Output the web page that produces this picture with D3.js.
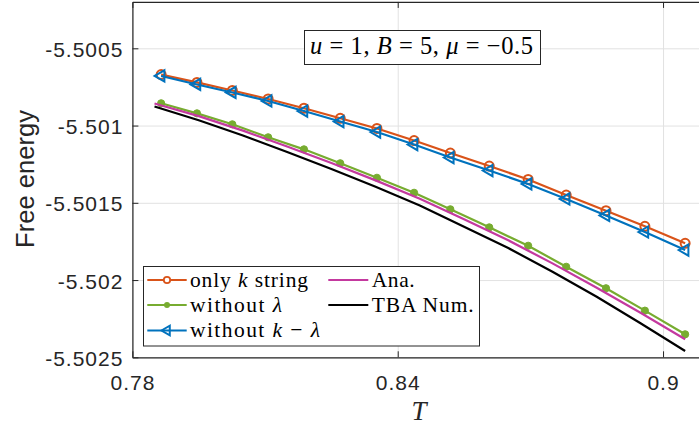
<!DOCTYPE html>
<html><head><meta charset="utf-8">
<script src="https://cdn.jsdelivr.net/npm/d3@7"></script>
<style>body{margin:0;background:#fff;} svg{display:block;}</style>
</head><body>
<script>
// ---- data ----
const T = [0.7865, 0.7946, 0.8026, 0.8107, 0.8188, 0.8270, 0.8353, 0.8437, 0.8519, 0.8607, 0.8695, 0.8781, 0.8871, 0.8959, 0.9050];
const onlyKString = [-5.500670, -5.500721, -5.500773, -5.500828, -5.500888, -5.500953, -5.501019, -5.501097, -5.501178, -5.501262, -5.501349, -5.501450, -5.501551, -5.501652, -5.501762];
const withoutLambda = [-5.500856, -5.500921, -5.500992, -5.501076, -5.501154, -5.501244, -5.501338, -5.501435, -5.501542, -5.501659, -5.501778, -5.501914, -5.502053, -5.502198, -5.502351];
const withoutKLambda = [-5.500679, -5.500734, -5.500786, -5.500841, -5.500906, -5.500974, -5.501042, -5.501123, -5.501207, -5.501291, -5.501378, -5.501475, -5.501582, -5.501689, -5.501806];
const TLine = [0.785, 0.795, 0.805, 0.815, 0.825, 0.835, 0.845, 0.855, 0.865, 0.875, 0.885, 0.895, 0.905];
const ana = [-5.500857, -5.500939, -5.501033, -5.501136, -5.501242, -5.501355, -5.501474, -5.501607, -5.501743, -5.501892, -5.502050, -5.502213, -5.502383];
const tbaNum = [-5.500877, -5.500966, -5.501064, -5.501171, -5.501281, -5.501396, -5.501517, -5.501655, -5.501793, -5.501946, -5.502108, -5.502281, -5.502459];
const xTicks = [0.78, 0.84, 0.9];
const xTickLabels = ["0.78", "0.84", "0.9"];
const yTicks = [-5.5005, -5.501, -5.5015, -5.502, -5.5025];
const yTickLabels = ["-5.5005", "-5.501", "-5.5015", "-5.502", "-5.5025"];
const legendLabels = [
  [["only ",0],["k",1],[" string",0]],
  [["without ",0],["λ",1]],
  [["without ",0],["k",1],[" − ",0],["λ",1]],
  [["Ana.",0]],
  [["TBA Num.",0]]
];
const legendWidths = [118, 92, 130, 43, 102];
const annotation = [["u",1],[" = 1, ",0],["B",1],[" = 5, ",0],["μ",1],[" = −0.5",0]];

// ---- layout ----
const W = 699, H = 428;
const L = 132.4, R = 700.4, TOP = 1.95, BOT = 357.3;
const x = d3.scaleLinear().domain([0.78, 0.90845]).range([L, R]);
const y = d3.scaleLinear().domain([-5.5025, -5.5002]).range([BOT, TOP]);
const axisColor = "#262626";
const colors = {orange:"#D95319", green:"#77AC30", blue:"#0072BD", magenta:"#C4399F", black:"#000000"};

const svg = d3.select("body").append("svg").attr("width", W).attr("height", H);

// grid
svg.append("g").attr("transform", `translate(0,${BOT})`)
  .call(d3.axisBottom(x).tickValues(xTicks).tickSize(-(BOT-TOP)).tickFormat(""))
  .call(g => { g.select(".domain").remove(); g.selectAll("line").attr("stroke", "#e2e2e2").attr("stroke-width", 1); });
svg.append("g").attr("transform", `translate(${L},0)`)
  .call(d3.axisLeft(y).tickValues(yTicks).tickSize(-(R-L)).tickFormat(""))
  .call(g => { g.select(".domain").remove(); g.selectAll("line").attr("stroke", "#e2e2e2").attr("stroke-width", 1); });

// axes
const tickFont = "'Liberation Sans', Arial, Helvetica, sans-serif";
const gx = svg.append("g").attr("transform", `translate(0,${BOT})`)
  .call(d3.axisBottom(x).tickValues(xTicks).tickSizeInner(-6).tickSizeOuter(0).tickPadding(18)
    .tickFormat((d,i) => xTickLabels[i]));
const gxTop = svg.append("g").attr("transform", `translate(0,${TOP})`)
  .call(d3.axisTop(x).tickValues(xTicks).tickSizeInner(-6).tickSizeOuter(0).tickFormat(""));
const gy = svg.append("g").attr("transform", `translate(${L},0)`)
  .call(d3.axisLeft(y).tickValues(yTicks).tickSizeInner(-6).tickSizeOuter(0).tickPadding(9)
    .tickFormat((d,i) => yTickLabels[i]));
[gx, gxTop, gy].forEach(g => {
  g.attr("font-family", null).attr("font-size", null);
  g.select(".domain").attr("stroke", axisColor).attr("stroke-width", 1.2);
  g.selectAll(".tick line").attr("stroke", axisColor).attr("stroke-width", 1);
  g.selectAll(".tick text").attr("fill", axisColor)
    .style("font-family", tickFont).style("font-size", "21px").style("letter-spacing", "1px");
});
gx.selectAll(".tick text").attr("dy", "0.71em");
gy.selectAll(".tick text").attr("dy", "0.38em");

// axis labels
svg.append("text").attr("transform", `translate(33.5,179) rotate(-90)`)
  .attr("text-anchor", "middle").attr("fill", axisColor)
  .style("font-family", tickFont).style("font-size", "25.6px").text("Free energy");
svg.append("text").attr("x", 419).attr("y", 420).attr("text-anchor", "middle")
  .attr("fill", axisColor)
  .style("font-family", "'Liberation Serif', 'Times New Roman', serif").style("font-style", "italic")
  .style("font-size", "27px").text("T");

// lines
const line = (xs) => d3.line().x((d,i) => x(xs[i])).y(d => y(d));
const plot = svg.append("g");
function drawLine(xs, ys, color) {
  plot.append("path").datum(ys).attr("d", line(xs)).attr("fill", "none")
    .attr("stroke", color).attr("stroke-width", 2.2).attr("stroke-linejoin", "round");
}
// only k string
drawLine(T, onlyKString, colors.orange);
plot.append("g").selectAll("circle").data(onlyKString).join("circle")
  .attr("cx", (d,i) => x(T[i])).attr("cy", d => y(d)).attr("r", 4.5)
  .attr("fill", "none").attr("stroke", colors.orange).attr("stroke-width", 2);
// without lambda
drawLine(T, withoutLambda, colors.green);
plot.append("g").selectAll("circle").data(withoutLambda).join("circle")
  .attr("cx", (d,i) => x(T[i])).attr("cy", d => y(d)).attr("r", 3.6)
  .attr("fill", colors.green).attr("stroke", colors.green).attr("stroke-width", 1);
// without k - lambda
drawLine(T, withoutKLambda, colors.blue);
const tri = d3.symbol().type(d3.symbolTriangle).size(55);
plot.append("g").selectAll("path").data(withoutKLambda).join("path")
  .attr("d", tri())
  .attr("transform", (d,i) => `translate(${x(T[i])},${y(d)}) rotate(-90)`)
  .attr("fill", "none").attr("stroke", colors.blue).attr("stroke-width", 2).attr("stroke-linejoin", "miter");
// Ana, TBA
drawLine(TLine, ana, colors.magenta);
drawLine(TLine, tbaNum, colors.black);

// annotation box
const serif = "'Liberation Serif', 'Times New Roman', serif";
svg.append("rect").attr("x", 304.5).attr("y", 30.5).attr("width", 236).attr("height", 34)
  .attr("fill", "#fff").attr("stroke", axisColor).attr("stroke-width", 1);
const at = svg.append("text").attr("x", 310).attr("y", 54).attr("fill", "#000")
  .style("font-family", serif).style("font-size", "24.5px")
  .attr("textLength", 223).attr("lengthAdjust", "spacing");
annotation.forEach(([s, it]) => at.append("tspan").style("font-style", it ? "italic" : "normal").text(s));

// legend
const lg = svg.append("g");
lg.append("rect").attr("x", 143.5).attr("y", 266.5).attr("width", 336).attr("height", 79.5)
  .attr("fill", "#fff").attr("stroke", axisColor).attr("stroke-width", 1);
const legendItems = [
  {c: colors.orange, m: "circle", col: 0, row: 0},
  {c: colors.green, m: "dot", col: 0, row: 1},
  {c: colors.blue, m: "tri", col: 0, row: 2},
  {c: colors.magenta, m: null, col: 1, row: 0},
  {c: colors.black, m: null, col: 1, row: 1}
];
const rowY = [280, 305, 330.5];
const colX = [[147.3, 186.7, 190], [328.3, 368.3, 371.7]];
legendItems.forEach((it, i) => {
  const [x0, x1, tx] = colX[it.col];
  const cy = rowY[it.row];
  lg.append("line").attr("x1", x0).attr("x2", x1).attr("y1", cy).attr("y2", cy)
    .attr("stroke", it.c).attr("stroke-width", 2.2);
  const mx = (x0 + x1) / 2;
  if (it.m === "circle") lg.append("circle").attr("cx", mx).attr("cy", cy).attr("r", 3.2)
    .attr("fill", "#fff").attr("stroke", it.c).attr("stroke-width", 1.8);
  if (it.m === "dot") lg.append("circle").attr("cx", mx).attr("cy", cy).attr("r", 3).attr("fill", it.c);
  if (it.m === "tri") lg.append("path").attr("d", d3.symbol().type(d3.symbolTriangle).size(40)())
    .attr("transform", `translate(${mx},${cy}) rotate(-90)`)
    .attr("fill", "none").attr("stroke", it.c).attr("stroke-width", 2);
  const t = lg.append("text").attr("x", tx).attr("y", cy + 6.5).attr("fill", "#000")
    .style("font-family", serif).style("font-size", "21.5px")
    .attr("textLength", legendWidths[i]).attr("lengthAdjust", "spacing");
  legendLabels[i].forEach(([s, itl]) => t.append("tspan").style("font-style", itl ? "italic" : "normal").text(s));
});
</script>
</body></html>
